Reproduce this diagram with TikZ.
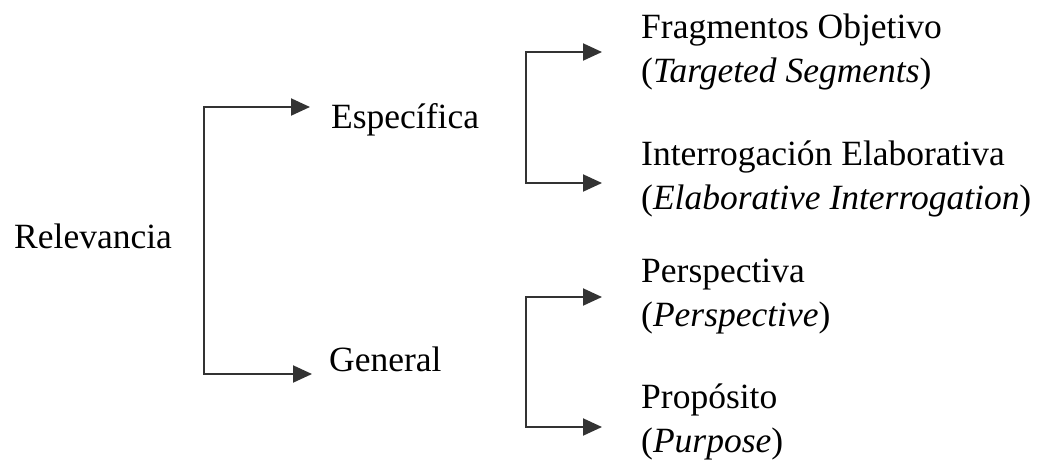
\documentclass[tikz,border=0pt]{standalone}
\usepackage{fontspec}
\setmainfont{Liberation Serif}
\usetikzlibrary{arrows.meta}

\tikzset{
  lbl/.style={anchor=base west, inner sep=0pt, align=left,
    font=\fontsize{35.5}{44}\selectfont},
  brk/.style={line width=2pt, black!80,
    {Triangle[length=19pt,width=17pt]}-{Triangle[length=19pt,width=17pt]}},
}

\begin{document}
\begin{tikzpicture}[x=1pt, y=-1pt]
  \useasboundingbox (0,0) rectangle (1047,459);
  % categories (multi-line nodes sit on their last baseline)
  \node[lbl] (rel) at (14,248) {Relevancia};
  \node[lbl] (esp) at (331,128) {Específica};
  \node[lbl] (gen) at (329,371) {General};
  \node[lbl] (frag) at (641,82) {Fragmentos Objetivo\\(\textit{Targeted Segments})};
  \node[lbl] (inte) at (641,209) {Interrogación Elaborativa\\(\textit{Elaborative Interrogation})};
  \node[lbl] (pers) at (641,326) {Perspectiva\\(\textit{Perspective})};
  \node[lbl] (prop) at (641,452) {Propósito\\(\textit{Purpose})};
  % bracket corners
  \coordinate (r1) at (204,107);
  \coordinate (r2) at (204,374);
  \coordinate (e1) at (526,52);
  \coordinate (e2) at (526,183);
  \coordinate (g1) at (526,297);
  \coordinate (g2) at (526,427);
  % brackets
  \draw[brk, shorten <=17pt, shorten >=21pt] (gen.west |- r2) -- (r2) -- (r1) -- (esp.west |- r1);
  \draw[brk, shorten <=39pt, shorten >=39pt] (inte.west |- e2) -- (e2) -- (e1) -- (frag.west |- e1);
  \draw[brk, shorten <=39pt, shorten >=39pt] (prop.west |- g2) -- (g2) -- (g1) -- (pers.west |- g1);
\end{tikzpicture}
\end{document}
